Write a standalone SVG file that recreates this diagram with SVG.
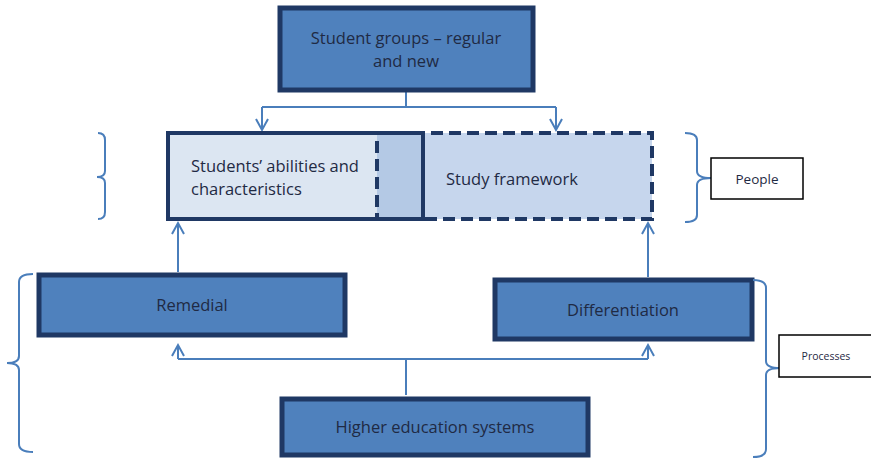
<svg xmlns="http://www.w3.org/2000/svg" width="871" height="459" viewBox="0 0 871 459">
<style>
.box{fill:#4f81bd;stroke:#1f3864;stroke-width:5}
.t{font-family:"Open Sans","Liberation Sans",sans-serif;fill:#1f2a44;font-size:16.5px;text-anchor:middle}
.tl{font-family:"Open Sans","Liberation Sans",sans-serif;fill:#1f2a44;font-size:16.5px}
.c{fill:none;stroke:#4a7ebb;stroke-width:2}
.br{fill:none;stroke:#4a7ebb;stroke-width:2}
.lab{fill:#fff;stroke:#000;stroke-width:1.5}
</style>
<defs>
<marker id="ah" markerUnits="userSpaceOnUse" markerWidth="16" markerHeight="16" refX="12" refY="8" orient="auto" viewBox="0 0 16 16">
<path d="M1,2 L12,8 L1,14" fill="none" stroke="#4a7ebb" stroke-width="2"/>
</marker>
</defs>
<g id="connectors">
<path class="c" d="M406,92 V107 M262,107 H556"/>
<path class="c" d="M262,107 V130" marker-end="url(#ah)"/>
<path class="c" d="M556,107 V130" marker-end="url(#ah)"/>
<path class="c" d="M178,272 V223" marker-end="url(#ah)"/>
<path class="c" d="M648,277 V223" marker-end="url(#ah)"/>
<path class="c" d="M406,395 V359 M178,359 H648"/>
<path class="c" d="M178,359 V345" marker-end="url(#ah)"/>
<path class="c" d="M648,359 V345" marker-end="url(#ah)"/>
</g>
<g id="student-groups">
<rect class="box" x="280" y="8" width="253" height="82"/>
<text class="t" x="406" y="44">Student groups – regular</text>
<text class="t" x="406" y="67">and new</text>
</g>
<g id="middle">
<rect x="168" y="133" width="484" height="86" fill="#c6d6ed"/>
<rect x="168" y="133" width="209" height="86" fill="#dce6f2"/>
<rect x="377" y="133" width="46" height="86" fill="#b4c9e5"/>
<rect x="377" y="133" width="275" height="86" fill="none" stroke="#1f3864" stroke-width="4" stroke-dasharray="12,6"/>
<rect x="168" y="133" width="255" height="86" fill="none" stroke="#1f3864" stroke-width="4"/>
</g>
<g id="abilities">
<text class="tl" x="191" y="172">Students’ abilities and</text>
<text class="tl" x="191" y="195">characteristics</text>
</g>
<g id="framework">
<text class="tl" x="446" y="185">Study framework</text>
</g>
<g id="people-bracket">
<path class="br" d="M98,133 Q105,133 105,140 V171 Q105,177 97,177 Q105,177 105,183 V212 Q105,219 98,219"/>
<path class="br" d="M685,133 Q697,133 697,140 V171 Q697,178 711,178 Q697,178 697,185 V215 Q697,222 685,222"/>
</g>
<g id="people">
<rect class="lab" x="711" y="158" width="92" height="41"/>
<text class="t" x="757" y="184" style="font-size:13.5px">People</text>
</g>
<g id="remedial">
<rect class="box" x="39" y="275" width="306" height="60"/>
<text class="t" x="192" y="311">Remedial</text>
</g>
<g id="differentiation">
<rect class="box" x="495" y="280" width="257" height="59"/>
<text class="t" x="623" y="316">Differentiation</text>
</g>
<g id="higher-ed">
<rect class="box" x="282" y="399" width="306" height="56"/>
<text class="t" x="435" y="433">Higher education systems</text>
</g>
<g id="processes-bracket">
<path class="br" d="M33,274 Q19,274 19,282 V356 Q19,363 7,363 Q19,363 19,370 V444 Q19,452 33,452"/>
<path class="br" d="M753,280 Q766,280 766,288 V361 Q766,368 780,368 Q766,368 766,375 V449 Q766,457 753,457"/>
</g>
<g id="processes">
<rect class="lab" x="779" y="335" width="95" height="42"/>
<text class="t" x="826" y="360" style="font-size:10.5px">Processes</text>
</g>
</svg>
